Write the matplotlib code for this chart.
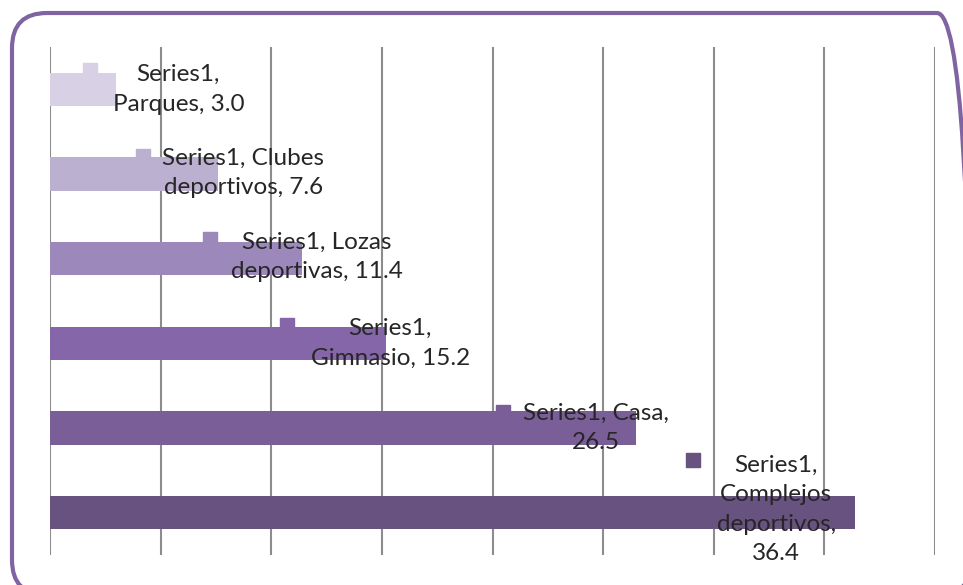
import matplotlib
matplotlib.use("Agg")
import matplotlib.pyplot as plt
import matplotlib.transforms as mtrans
from matplotlib.patches import FancyBboxPatch

# datos del grafico
categorias = ["Parques", "Clubes deportivos", "Lozas deportivas", "Gimnasio", "Casa", "Complejos deportivos"]
valores = [3.0, 7.6, 11.4, 15.2, 26.5, 36.4]
etiquetas = [
    "Series1,\nParques, 3.0",
    "Series1, Clubes\ndeportivos, 7.6",
    "Series1, Lozas\ndeportivas, 11.4",
    "Series1,\nGimnasio, 15.2",
    "Series1, Casa,\n26.5",
    "Series1,\nComplejos\ndeportivos,\n36.4",
]
colores = ["#d8d0e5", "#bbb0d0", "#9c88ba", "#8566a8", "#7a5e98", "#68527f"]

# desplazamientos de las etiquetas (pixeles) respecto al extremo de la barra
marca_dx = [-26, -75, -92, -99, -133, -162]
marca_dy = [19, 18, 20, 18, 16, 53]
texto_dx = [62, 25, 15, 4, -40, -79]
texto_dy = [0, 1, 2, 0, 0, 3]

plt.rcParams["font.family"] = ["Lato", "DejaVu Sans"]

fig = plt.figure(figsize=(9.63, 5.85), dpi=100)
ax = fig.add_axes([50 / 963, 30 / 585, 885 / 963, 508 / 585])

y = list(range(len(categorias)))
ax.barh(y, valores, height=0.39, color=colores, zorder=3)
ax.set_xlim(0, 40)
ax.set_ylim(len(categorias) - 0.5, -0.5)
ax.set_xticks(range(0, 45, 5))
ax.set_yticks([])
ax.tick_params(axis="x", length=0, labelbottom=False)
ax.grid(axis="x", color="#8c8c8c", linewidth=1.5, zorder=0)
for s in ax.spines.values():
    s.set_visible(False)

for i, v in enumerate(valores):
    ax.annotate(etiquetas[i], xy=(v, i), xytext=(texto_dx[i], texto_dy[i]),
                textcoords="offset pixels", ha="center", va="center",
                fontsize=17.5, color="#262626", linespacing=1.5, zorder=5)
    # marcador cuadrado de la leyenda, desplazado en pixeles
    mk = ax.plot([v], [i], marker="s", markersize=10, color=colores[i],
                 linestyle="none", zorder=4)[0]
    mk.set_transform(ax.transData + mtrans.Affine2D().translate(marca_dx[i], marca_dy[i]))

# marco redondeado
marco = FancyBboxPatch((12, -10), 960, 582,
                       boxstyle="round,pad=0,rounding_size=35",
                       transform=mtrans.IdentityTransform(), fill=False,
                       edgecolor="#8064a2", linewidth=3)
fig.patches.append(marco)

fig.savefig("out.png", dpi=100)
